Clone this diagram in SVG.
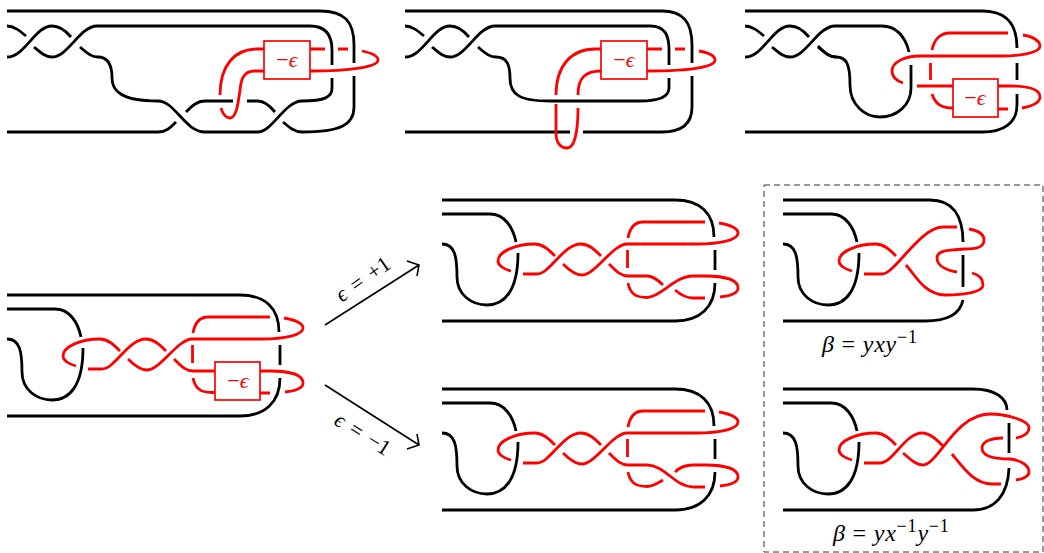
<svg xmlns="http://www.w3.org/2000/svg" xmlns:xlink="http://www.w3.org/1999/xlink" width="1044" height="553" viewBox="0 0 1044 553">
<style>
.k{fill:none;stroke:#000;stroke-width:2.8}
.r{fill:none;stroke:#f00;stroke-width:2.8}
.b{fill:#fff;stroke:#f00;stroke-width:1.7}
.t{font-family:"Liberation Serif","DejaVu Serif",serif;font-size:22px;fill:#000}
.q{font-size:24px;letter-spacing:.8px}
.s{font-size:18px}
.i{font-style:italic}
.e{font-family:"Liberation Serif","DejaVu Serif",serif;font-size:22px;fill:#f00;text-anchor:middle}
.a{fill:none;stroke:#000;stroke-width:1.6}
.d{fill:none;stroke:#333;stroke-width:1;stroke-dasharray:6 4}
</style>
<defs>
<g id="twistTop">
<path class="k" d="M7 26C14 26 20 31 26 36M7 57C25 57 35 26 52 26C60 26 66 31 71 37M34 47C40 52 45 57 52 57C68 57 80 26 97 26M80 47C88 54 92 57 98 57"/>
</g>
<g id="hook">
<path class="k" d="M7 309H55C70 309 78 323 81 337M7 339C20 339 22 352 22 372C22 390 37 400 52 400C70 400 83 385 83 348"/>
<path class="r" d="M76 366C68 364 63 360 63 356C63 347 80 339 100 339C108 339 114 345 120 351M88 369H102"/>
</g>
<g id="twistB">
<path class="r" d="M102 369C115 369 128 339 146 339C154 339 160 345 166 351M128 359C134 365 140 370 147 370C160 370 178 339 192 339H262C285 339 303 335 303 328C303 323 295 320 284 318M174 359C180 365 185 371 193 371H212M192.500 345V363M193 333C195 322 200 317 208 317H270M193 378C195 388 200 392.500 212 392.500"/>
</g>
<g id="frameB">
<path class="k" d="M7 295H240C265 295 279 308 279 332M280 345V365M280 378C280 402 265 416 240 416H7"/>
</g>
</defs>

<g id="panel-top-1">
<path class="k" d="M7 11H320C345 11 354 22 354 45V63M354 76V107C354 125 340 132 302 132C295 132 290 128 283 122M332 65V50C332 35 325 26 310 26H97M332 78V88C332 97 325 101 302 101C285 101 272 132 258 132H205C185 132 175 101 158 101C120 101 112 90 112 78C112 65 108 57 98 57M7 132H158C166 132 170 128 176 122M186 112C192 106 197 101 205 101H233M247 101H258C265 101 270 106 275 112"/>
<use xlink:href="#twistTop" href="#twistTop"/>
<path class="r" d="M264 49H257C235 49 220 65 220 95M255 71C243 71 241 80 240 90C238 105 236 118 230 118C225 118 222 112 221 108M255 71H264M310 49H325M338 49H348M362 51C372 53 378 56 378 60C378 67 350 71 310 71"/>
<rect id="box-1" class="b" x="264" y="41" width="46" height="38"/>
<text class="e" x="287" y="67">−<tspan class="i">ϵ</tspan></text>
</g>

<g id="panel-top-2">
<use xlink:href="#twistTop" href="#twistTop" x="398"/>
<path class="k" d="M405 11H662C683 11 692 22 692 45V63M692 76V107C692 125 680 132 662 132H583M570 132H405M495 26H650C665 26 669 35 669 50V65M669 78V88C669 97 660 101 640 101H550C520 101 510 95 510 78C510 65 507 57 496 57"/>
<path class="r" d="M601 49H595C572 49 556 65 556 95M556 104V133C556 142 560 148 567 148C575 148 578 130 578 108M601 71C585 71 578 78 578 95M647 49H662M675 49H685M699 51C710 53 715 56 715 60C715 67 690 71 647 71"/>
<rect id="box-2" class="b" x="601" y="41" width="46" height="38"/>
<text class="e" x="624" y="67">−<tspan class="i">ϵ</tspan></text>
</g>

<g id="panel-top-3">
<use xlink:href="#twistTop" href="#twistTop" x="738"/>
<path class="k" d="M745 11H982C1005 11 1017 22 1017 48M1017 63V80M1017 94V105C1017 122 1005 132 982 132H745M835 26H882C895 26 905 35 909 52M818 46C826 54 830 57 836 57C847 57 850 65 850 85C850 105 865 117 880 117C897 117 911 105 911 88V65"/>
<path class="r" d="M932 50C934 40 940 33 950 33H1008M1023 35C1035 37 1040 42 1040 46C1040 53 1020 56 1000 56H920C905 56 892 62 892 71C892 77 897 81 903 83M917 86H953M930.500 63V80M932 94C935 103 940 108 953 108M998 86H1010C1030 86 1040 90 1040 97C1040 103 1030 107 1022 108M998 109H1008"/>
<rect id="box-3" class="b" x="953" y="79" width="45" height="38"/>
<text class="e" x="975" y="105">−<tspan class="i">ϵ</tspan></text>
</g>

<g id="panel-mid-left">
<use xlink:href="#frameB" href="#frameB"/>
<use xlink:href="#hook" href="#hook"/>
<use xlink:href="#twistB" href="#twistB"/>
<path class="r" d="M212 392.500H215M212 371H215M260 371H270C290 371 303 375 303 383C303 388 295 391 285 392M260 393H270"/>
<rect id="box-4" class="b" x="215" y="362" width="45" height="38"/>
<text class="e" x="238" y="388">−<tspan class="i">ϵ</tspan></text>
</g>

<g id="panel-plus" transform="translate(435 -95)">
<use xlink:href="#frameB" href="#frameB"/>
<use xlink:href="#hook" href="#hook"/>
<use xlink:href="#twistB" href="#twistB"/>
<path class="r" d="M212 371C218 371 223 375 228 380M240 385C247 391 252 393 258 393H270M212 392.500C225 392.500 240 371 258 371H270C290 371 303 375 303 383C303 388 295 391 285 392"/>
</g>

<g id="panel-minus" transform="translate(435 94)">
<use xlink:href="#frameB" href="#frameB"/>
<use xlink:href="#hook" href="#hook"/>
<use xlink:href="#twistB" href="#twistB"/>
<path class="r" d="M212 371C230 371 240 393 258 393H270M212 392.500C218 392.500 223 389 228 386M240 378C245 373 250 371 258 371H270C290 371 303 375 303 383C303 388 295 391 285 392"/>
</g>

<g id="panel-beta-1">
<use xlink:href="#hook" href="#hook" x="776" y="-95"/>
<path class="k" d="M783 200H930C952 200 963 215 963 242M963 255V287M963 300C960 315 945 321 925 321H783"/>
<path class="r" d="M878 274H882C895 274 920 227 943 227H957M969 229C980 231 984 235 984 240C984 248 975 249 965 249C950 250 937 250 937 258C937 265 945 270 957 272M972 273C980 275 983 280 983 285C983 292 965 295 945 295C925 295 915 275 906 265"/>
<text class="t q" x="822" y="352"><tspan class="i">β</tspan> = <tspan class="i">yxy</tspan><tspan class="s" dy="-9">−1</tspan></text>
</g>

<g id="panel-beta-2">
<use xlink:href="#hook" href="#hook" x="776" y="94"/>
<path class="k" d="M783 389H973C995 389 1007 398 1007 410M1009 423V453M1009 468C1008 495 995 510 973 510H783"/>
<path class="r" d="M878 463H880C893 463 905 433 922 433C930 433 937 440 943 446M903 453C910 459 916 465 923 465C938 465 955 414 990 414C1005 414 1029 420 1029 428C1029 434 1022 437 1016 438M1003 438C990 438 982 442 982 448C982 458 1000 459 1010 459C1020 460 1029 465 1029 472C1029 477 1022 479 1016 480M952 454C965 470 975 484 992 484H1001"/>
<text class="t q" x="833" y="541"><tspan class="i">β</tspan> = <tspan class="i">yx</tspan><tspan class="s" dy="-9">−1</tspan><tspan class="i" dy="9">y</tspan><tspan class="s" dy="-9">−1</tspan></text>
</g>

<g id="connectors">
<path class="a" d="M325 325L419 265M407 261L419 265L417 276"/>
<path class="a" d="M325 385L419 445M407 449L419 445L417 434"/>
<rect class="d" x="764" y="185" width="279" height="367"/>
</g>
<text class="t" transform="translate(367 285) rotate(-35)" text-anchor="middle" word-spacing="3"><tspan class="i">ϵ</tspan> = +1</text>
<text class="t" transform="translate(359 440) rotate(32)" text-anchor="middle" word-spacing="3"><tspan class="i">ϵ</tspan> = −1</text>
</svg>
